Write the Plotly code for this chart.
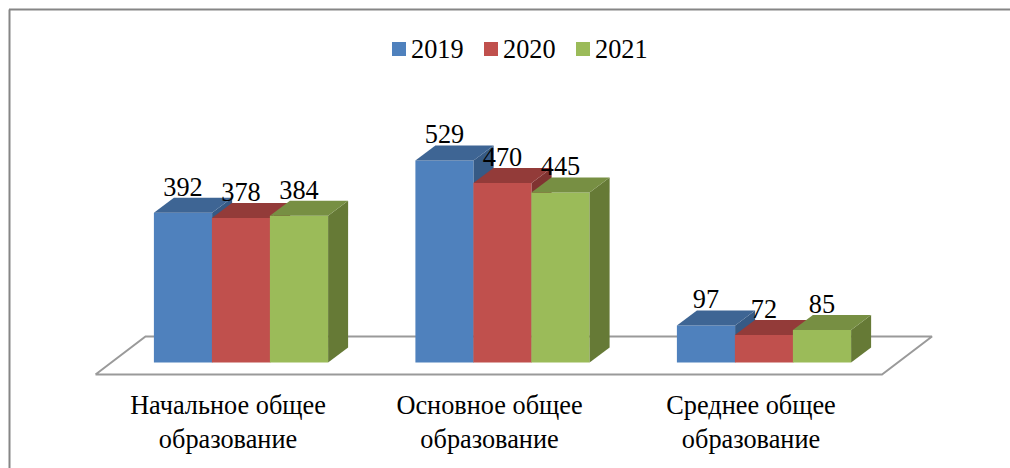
import plotly.graph_objects as go

categories = ["Начальное общее<br>образование", "Основное общее<br>образование", "Среднее общее<br>образование"]
series_names = ["2019", "2020", "2021"]
values_2019 = [392, 529, 97]
values_2020 = [378, 470, 72]
values_2021 = [384, 445, 85]
series_values = [values_2019, values_2020, values_2021]

front_colors = ["#4F81BD", "#C0504D", "#9BBB59"]
top_colors = ["#3E6594", "#933B39", "#778F43"]
side_colors = ["#365A85", "#803331", "#667A36"]

W, H = 1010, 468
PLOT_BOTTOM = 387
ZERO_PX = 362.5
PX_PER_UNIT_Y = 0.382
CAT_PX = 228.0
CAT_STEP = 261.5
FS = 26.3
FONT = "Liberation Serif"

ux = lambda px: px / CAT_STEP
uy = lambda px: px / PX_PER_UNIT_Y
x_range = [-CAT_PX / CAT_STEP, (W - CAT_PX) / CAT_STEP]
y_range = [(ZERO_PX - PLOT_BOTTOM) / PX_PER_UNIT_Y, ZERO_PX / PX_PER_UNIT_Y]

bar_w = ux(58.2)
offsets = [ux(-45), ux(13), ux(71)]
dx, dy = ux(20), uy(15)

fig = go.Figure()

# floor
fl, fr = ux(95.5 - CAT_PX), ux(882 - CAT_PX)
bl, br = ux(145.5 - CAT_PX), ux(932 - CAT_PX)
fy, by = uy(ZERO_PX - 374.5), uy(ZERO_PX - 336.5)
fig.add_trace(go.Scatter(x=[fl, fr, br, bl, fl], y=[fy, fy, by, by, fy], mode="lines",
                         line=dict(color="#9A9A9A", width=2), fill="toself", fillcolor="white",
                         hoverinfo="skip", showlegend=False))

for s, vals in enumerate(series_values):
    ax = str(s + 2)
    xa, ya = "x" + ax, "y" + ax
    xs = [i + offsets[s] for i in range(len(categories))]
    fig.add_trace(go.Bar(x=xs, y=vals, width=bar_w, name=series_names[s], xaxis=xa, yaxis=ya,
                         marker=dict(color=front_colors[s], line=dict(width=0)), showlegend=False))
    for x, v in zip(xs, vals):
        l, r = x - bar_w / 2, x + bar_w / 2
        fig.add_trace(go.Scatter(x=[r, r + dx, r + dx, r, r], y=[0, dy, v + dy, v, 0], mode="lines",
                                 fill="toself", fillcolor=side_colors[s], line=dict(width=0),
                                 xaxis=xa, yaxis=ya, hoverinfo="skip", showlegend=False))
        fig.add_trace(go.Scatter(x=[l, r, r + dx, l + dx, l], y=[v, v, v + dy, v + dy, v], mode="lines",
                                 fill="toself", fillcolor=top_colors[s], line=dict(width=0),
                                 xaxis=xa, yaxis=ya, hoverinfo="skip", showlegend=False))

# data labels on the topmost axes
label_lift = dy - uy(4.5)
for s, vals in enumerate(series_values):
    fig.add_trace(go.Scatter(x=[i + offsets[s] for i in range(len(categories))],
                             y=[v + label_lift for v in vals], mode="text",
                             text=[str(v) for v in vals], textposition="top center",
                             textfont=dict(family=FONT, size=FS, color="black"),
                             xaxis="x4", yaxis="y4", hoverinfo="skip", showlegend=False, cliponaxis=False))

shapes = [
    dict(type="line", xref="paper", yref="paper", x0=9.5 / W, x1=9.5 / W, y0=0, y1=1 - 9.5 / H,
         line=dict(color="#868686", width=2)),
    dict(type="line", xref="paper", yref="paper", x0=9 / W, x1=1, y0=1 - 9.5 / H, y1=1 - 9.5 / H,
         line=dict(color="#868686", width=2)),
]
annotations = []
legend_x = [392, 484, 576]
for s, name in enumerate(series_names):
    shapes.append(dict(type="rect", xref="paper", yref="paper", x0=legend_x[s] / W, x1=(legend_x[s] + 14) / W,
                       y0=1 - 56 / H, y1=1 - 42 / H, fillcolor=front_colors[s], line=dict(width=0)))
    annotations.append(dict(xref="paper", yref="paper", x=(legend_x[s] + 17) / W, y=1 - 49.5 / H, text=name,
                            showarrow=False, xanchor="left", yanchor="middle", xshift=0,
                            font=dict(family=FONT, size=FS, color="black")))

hidden = dict(range=x_range, visible=False, fixedrange=True)
hiddeny = dict(range=y_range, visible=False, fixedrange=True)
domain_y = [1 - PLOT_BOTTOM / H, 1]
fig.update_layout(
    width=W, height=H, autosize=False,
    margin=dict(l=0, r=0, t=0, b=0),
    paper_bgcolor="white", plot_bgcolor="rgba(0,0,0,0)",
    barmode="overlay", showlegend=False,
    font=dict(family=FONT, size=FS, color="black"),
    shapes=shapes, annotations=annotations,
    xaxis=dict(range=x_range, domain=[0, 1], tickmode="array", tickvals=list(range(len(categories))),
               ticktext=categories, showgrid=False, zeroline=False, showline=False, ticks="",
               tickfont=dict(family=FONT, size=FS, color="black"), fixedrange=True),
    yaxis=dict(range=y_range, domain=domain_y, visible=False, fixedrange=True),
)
for k in (2, 3, 4):
    fig.update_layout({f"xaxis{k}": dict(overlaying="x", **hidden),
                       f"yaxis{k}": dict(overlaying="y", domain=domain_y, **hiddeny)})

fig.write_html("out.html", config={"displayModeBar": False},
               post_script="document.body.style.margin='0';document.body.style.overflow='hidden';")
